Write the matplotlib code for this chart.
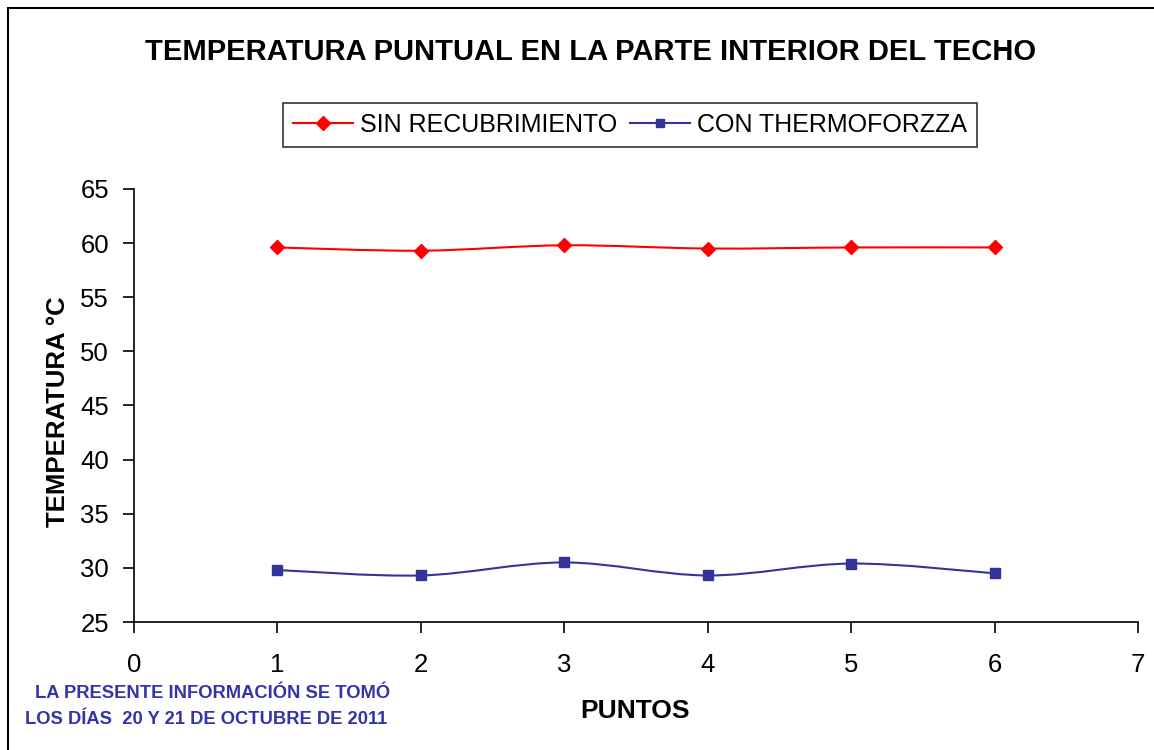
import numpy as np
import matplotlib
matplotlib.use('Agg')
import matplotlib.pyplot as plt
from matplotlib.path import Path
from matplotlib.patches import PathPatch, Rectangle
from matplotlib.lines import Line2D

plt.rcParams['font.family'] = ['Liberation Sans', 'DejaVu Sans']

# Data
puntos = [1, 2, 3, 4, 5, 6]
sin_recub = [59.6, 59.3, 59.8, 59.5, 59.6, 59.6]
con_thermo = [29.8, 29.3, 30.5, 29.3, 30.4, 29.5]
labels = ['SIN RECUBRIMIENTO', 'CON THERMOFORZZA']
colors = ['#ff0000', '#333399']

# Smoothed line like Excel (cubic bezier through the points)
def smooth_path(x, y, t=1/6):
	x = np.asarray(x, float)
	y = np.asarray(y, float)
	n = len(x)
	verts = [(x[0], y[0])]
	codes = [Path.MOVETO]
	for i in range(n - 1):
		x0, y0 = (x[i-1], y[i-1]) if i > 0 else (x[i], y[i])
		x3, y3 = (x[i+2], y[i+2]) if i + 2 < n else (x[i+1], y[i+1])
		c1 = (x[i] + (x[i+1] - x0)*t, y[i] + (y[i+1] - y0)*t)
		c2 = (x[i+1] - (x3 - x[i])*t, y[i+1] - (y3 - y[i])*t)
		verts += [c1, c2, (x[i+1], y[i+1])]
		codes += [Path.CURVE4]*3
	return Path(verts, codes)

fig = plt.figure(figsize=(11.54, 7.5), dpi=100)
ax = fig.add_axes([134/1154, 1 - 622/750, (1138-134)/1154, (622-189)/750])

# outer frame
fig.patches.append(Rectangle((8/1154, -0.01), 1.02, 1 - 8/750 + 0.01, transform=fig.transFigure,
	fill=False, edgecolor='black', linewidth=1.5))

for ys, c, m, ms in [(sin_recub, colors[0], 'D', 7), (con_thermo, colors[1], 's', 7)]:
	ax.add_patch(PathPatch(smooth_path(puntos, ys), fill=False, edgecolor=c, linewidth=1.5))
	ax.plot(puntos, ys, linestyle='none', marker=m, markersize=ms, color=c)

ax.set_xlim(0, 7)
ax.set_ylim(25, 65)
ax.set_xticks(range(0, 8))
ax.set_yticks(range(25, 66, 5))
ax.spines['top'].set_visible(False)
ax.spines['right'].set_visible(False)
ax.spines['left'].set_linewidth(1.2)
ax.spines['bottom'].set_linewidth(1.2)
ax.tick_params(labelsize=18.5, direction='out', length=8, width=1.2)
ax.tick_params(axis='x', pad=14)
ax.tick_params(axis='y', pad=10)

ax.set_xlabel('PUNTOS', fontsize=19, fontweight='bold')
ax.set_ylabel('TEMPERATURA °C', fontsize=18.5, fontweight='bold')
ax.xaxis.set_label_coords(0.499, -0.178)
ax.yaxis.set_label_coords(-0.064, 0.485)

fig.text(591/1154, 1 - 52/750, 'TEMPERATURA PUNTUAL EN LA PARTE INTERIOR DEL TECHO',
	ha='center', va='center', fontsize=21, fontweight='bold')

handles = [Line2D([0], [0], color=colors[0], marker='D', markersize=7, linewidth=1.5),
	Line2D([0], [0], color=colors[1], marker='s', markersize=6, linewidth=1.5)]
leg = fig.legend(handles, labels, loc='center', bbox_to_anchor=(630/1154, 1 - 125/750),
	ncol=2, fontsize=18, frameon=True, fancybox=False, edgecolor='black',
	handlelength=2.4, handletextpad=0.3, columnspacing=0.5, borderpad=0.4)
leg.get_frame().set_linewidth(1.2)

fig.text(35/1154, 1 - 693/750, 'LA PRESENTE INFORMACIÓN SE TOMÓ', ha='left', va='center',
	fontsize=13.2, fontweight='bold', color='#3333aa')
fig.text(25/1154, 1 - 720/750, 'LOS DÍAS  20 Y 21 DE OCTUBRE DE 2011', ha='left', va='center',
	fontsize=13.2, fontweight='bold', color='#3333aa')

fig.savefig('out.png', dpi=100)
